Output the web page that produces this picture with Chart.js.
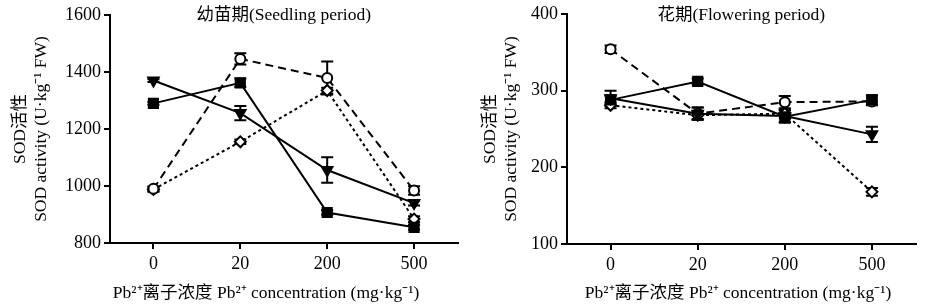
<!DOCTYPE html>
<html>
<head>
<meta charset="utf-8">
<script src="https://cdn.jsdelivr.net/npm/chart.js@4/dist/chart.umd.min.js"></script>
<style>
  body { margin: 0; background: #fff; }
  .wrap { display: flex; width: 931px; height: 307px; }
</style>
</head>
<body>
<div class="wrap">
  <canvas id="seedling" width="470" height="307"></canvas>
  <canvas id="flowering" width="461" height="307"></canvas>
</div>
<script>
const concLabels = ['0', '20', '200', '500'];

// seedling period
const seedSquare = [1290, 1362, 907, 855];
const seedSquareErr = [5, 15, 8, 8];
const seedTriangle = [1370, 1256, 1056, 940];
const seedTriangleErr = [5, 25, 45, 8];
const seedCircle = [990, 1446, 1379, 984];
const seedCircleErr = [8, 20, 58, 15];
const seedDiamond = [988, 1155, 1335, 884];
const seedDiamondErr = [8, 8, 10, 10];

// flowering period
const flowerSquare = [288, 312, 266, 288];
const flowerSquareErr = [5, 4, 8, 6];
const flowerTriangle = [290, 270, 267, 243];
const flowerTriangleErr = [10, 8, 8, 10];
const flowerCircle = [354, 270, 285, 286];
const flowerCircleErr = [5, 8, 8, 5];
const flowerDiamond = [281, 268, 270, 168];
const flowerDiamondErr = [4, 5, 6, 5];

const FONT = "'Liberation Serif', 'Noto Sans CJK SC', serif";
const yTitle = ['SOD活性', 'SOD activity (U·kg⁻¹ FW)'];
const xTitle = 'Pb²⁺离子浓度 Pb²⁺ concentration (mg·kg⁻¹)';

const errorBars = {
  id: 'errorBars',
  beforeDatasetsDraw(chart) {
    const { ctx, scales: { y } } = chart;
    ctx.save();
    ctx.strokeStyle = '#000';
    ctx.lineWidth = 2;
    chart.data.datasets.forEach((ds, i) => {
      if (!ds.errors) return;
      chart.getDatasetMeta(i).data.forEach((pt, j) => {
        const v = ds.data[j], e = ds.errors[j];
        const top = y.getPixelForValue(v + e);
        const bot = y.getPixelForValue(v - e);
        ctx.beginPath();
        ctx.moveTo(pt.x, top); ctx.lineTo(pt.x, bot);
        ctx.moveTo(pt.x - 6, top); ctx.lineTo(pt.x + 6, top);
        ctx.moveTo(pt.x - 6, bot); ctx.lineTo(pt.x + 6, bot);
        ctx.stroke();
      });
    });
    ctx.restore();
  }
};

const panelText = {
  id: 'panelText',
  afterDraw(chart, args, opts) {
    const { ctx, chartArea } = chart;
    ctx.save();
    ctx.fillStyle = '#000';
    ctx.font = '17.5px ' + FONT;
    ctx.textAlign = 'center';
    ctx.textBaseline = 'middle';
    ctx.fillText(opts.title, (chartArea.left + chartArea.right) / 2, opts.titleY);
    ctx.fillText(xTitle, opts.xTitleX, 293);
    ctx.restore();
  }
};

function series(data, errors, style) {
  return Object.assign({
    data, errors,
    borderColor: '#000', borderWidth: 2,
    pointBorderColor: '#000', pointBorderWidth: 2,
    tension: 0
  }, style);
}

function makePanel(id, sets, yMin, yMax, step, cfg) {
  return new Chart(document.getElementById(id), {
    type: 'line',
    data: {
      labels: concLabels,
      datasets: [
        series(sets[0][0], sets[0][1], { pointStyle: 'rect', pointRadius: 6.5, pointBackgroundColor: '#000' }),
        series(sets[1][0], sets[1][1], { pointStyle: 'triangle', pointRadius: 6, pointRotation: 180, pointBackgroundColor: '#000' }),
        series(sets[2][0], sets[2][1], { pointStyle: 'circle', pointRadius: 5, pointBackgroundColor: '#fff', borderDash: [8, 5] }),
        series(sets[3][0], sets[3][1], { pointStyle: 'rectRot', pointRadius: 5.5, pointBackgroundColor: '#fff', borderDash: [3, 3] })
      ]
    },
    options: {
      responsive: false,
      animation: false,
      layout: { padding: { top: cfg.top, right: cfg.right, left: 0, bottom: 0 } },
      plugins: {
        legend: { display: false },
        tooltip: { enabled: false },
        panelText: { title: cfg.title, titleY: 15, xTitleX: cfg.xTitleX }
      },
      scales: {
        x: {
          type: 'category',
          offset: true,
          ticks: { color: '#000', font: { size: 18, family: FONT }, padding: 4 },
          grid: { drawOnChartArea: false, tickLength: 6, color: '#000', lineWidth: 2, offset: false },
          border: { color: '#000', width: 2 },
          afterFit(s) { s.height = cfg.xHeight; }
        },
        y: {
          min: yMin, max: yMax,
          ticks: { stepSize: step, color: '#000', font: { size: 18, family: FONT }, padding: 3, callback: v => String(v) },
          grid: { drawOnChartArea: false, tickLength: 6, color: '#000', lineWidth: 2 },
          border: { color: '#000', width: 2 },
          title: { display: true, text: yTitle, color: '#000', font: { size: 17.5, family: FONT, lineHeight: 1.25 }, padding: { top: 9, bottom: 0 } },
          afterFit(s) { s.width = cfg.yWidth; }
        }
      }
    },
    plugins: [errorBars, panelText]
  });
}

makePanel('seedling', [
  [seedSquare, seedSquareErr],
  [seedTriangle, seedTriangleErr],
  [seedCircle, seedCircleErr],
  [seedDiamond, seedDiamondErr]
], 800, 1600, 200, { title: '幼苗期(Seedling period)', top: 15, right: 12.5, yWidth: 110, xHeight: 64, xTitleX: 266 });

makePanel('flowering', [
  [flowerSquare, flowerSquareErr],
  [flowerTriangle, flowerTriangleErr],
  [flowerCircle, flowerCircleErr],
  [flowerDiamond, flowerDiamondErr]
], 100, 400, 100, { title: '花期(Flowering period)', top: 14, right: 15.5, yWidth: 97, xHeight: 63, xTitleX: 268 });
</script>
</body>
</html>
